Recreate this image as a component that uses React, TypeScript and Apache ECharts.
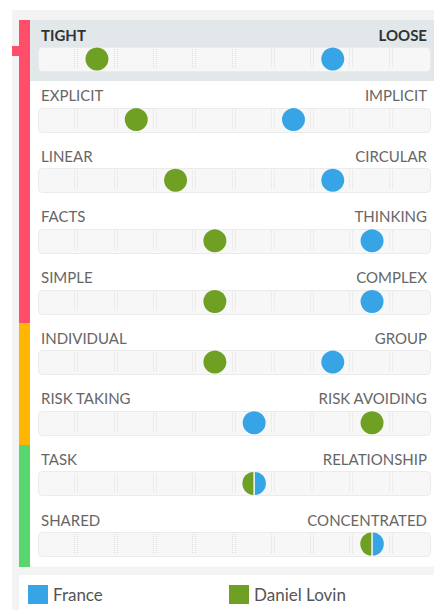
import React, { useEffect, useRef } from "react";
import * as echarts from "echarts";

const leftLabels = ["TIGHT", "EXPLICIT", "LINEAR", "FACTS", "SIMPLE", "INDIVIDUAL", "RISK TAKING", "TASK", "SHARED"];
const rightLabels = ["LOOSE", "IMPLICIT", "CIRCULAR", "THINKING", "COMPLEX", "GROUP", "RISK AVOIDING", "RELATIONSHIP", "CONCENTRATED"];
const rowGroup = [0, 0, 0, 0, 0, 1, 1, 2, 2];
const groupColors = ["#ff4d6a", "#ffb600", "#58d66f"];
const franceScores = [8, 7, 8, 9, 9, 8, 6, 6, 9];
const danielScores = [2, 3, 4, 5, 5, 5, 9, 6, 9];
const steps = 10;
const highlightedRow = 0;
const seriesNames = ["France", "Daniel Lovin"];
const seriesColors = ["#37a5e5", "#6f9f23"];

const FONT = "Lato, 'Open Sans', sans-serif";
const DOT = 23;
const leftHalf = "path://M10,0 A10,10 0 0,0 10,20 Z";
const rightHalf = "path://M0,0 A10,10 0 0,1 0,20 Z";

function buildDots(scores: number[], other: number[], isRight: boolean) {
  return scores.map((v, i) => {
    if (v === other[i]) {
      return {
        value: [v - 0.5, i],
        symbol: isRight ? rightHalf : leftHalf,
        symbolSize: [DOT / 2 - 0.5, DOT],
        symbolOffset: [isRight ? DOT / 4 + 0.5 : -DOT / 4 - 0.5, 0],
      };
    }
    return { value: [v - 0.5, i] };
  });
}

export default function App() {
  const ref = useRef<HTMLDivElement>(null);
  useEffect(() => {
    document.body.style.margin = "0";
    const chart = echarts.init(ref.current as HTMLDivElement, undefined, { renderer: "svg" });
    const W = 434;
    const legendCommon = {
      top: 580, icon: "rect", itemWidth: 20, itemHeight: 19, selectedMode: false,
      textStyle: { fontSize: 17, color: "#555", fontFamily: FONT },
    };
    const option: any = {
      animation: false,
      grid: { left: 38, right: 3, top: 59, bottom: 66 },
      xAxis: { type: "value", min: 0, max: steps, show: false },
      yAxis: { type: "value", min: 0, max: leftLabels.length - 1, inverse: true, show: false },
      graphic: [
        { type: "rect", z: 0, shape: { x: 12, y: 10, width: W - 12, height: 600 }, style: { fill: "#f3f3f3" }, silent: true },
        { type: "rect", z: 0, shape: { x: 19, y: 575, width: W - 19, height: 35 }, style: { fill: "#ffffff" }, silent: true },
      ],
      legend: [
        { ...legendCommon, data: [seriesNames[0]], left: 23 },
        { ...legendCommon, data: [seriesNames[1]], left: 224 },
      ],
      series: [
        {
          type: "custom",
          name: "rows",
          silent: true,
          clip: false,
          z: 1,
          data: leftLabels.map((_, i) => [0, i]),
          renderItem: (params: any, api: any) => {
            const row = api.value(1);
            const [x0, cy] = api.coord([0, row]);
            const [x1] = api.coord([steps, row]);
            const sp = api.size([0, 1])[1];
            const cell = (x1 - x0) / steps;
            const bandTop = Math.round(cy - sp * 0.64);
            const bandBot = Math.round(cy + sp * 0.36);
            const hl = row === highlightedRow;
            const fullW = api.getWidth();
            const children: any[] = [];
            children.push({
              type: "rect",
              shape: { x: x0 - 8, y: bandTop, width: fullW - (x0 - 8), height: bandBot - bandTop + 0.5 },
              style: { fill: hl ? "#e2e7ea" : "#ffffff" },
            });
            children.push({
              type: "rect",
              shape: { x: x0 - 19, y: bandTop, width: 11, height: bandBot - bandTop + 1 },
              style: { fill: groupColors[rowGroup[row]] },
            });
            if (hl) {
              children.push({
                type: "rect",
                shape: { x: x0 - 26, y: cy - 13, width: 7, height: 10 },
                style: { fill: groupColors[rowGroup[row]] },
              });
            }
            children.push({
              type: "rect",
              shape: { x: x0 + 0.5, y: Math.round(cy) - 11.5, width: x1 - x0 - 1, height: 24, r: 4 },
              style: { fill: "#f7f7f7", stroke: "#ebebeb", lineWidth: 1 },
            });
            for (let k = 1; k < steps; k++) {
              const bx = Math.round(x0 + k * cell);
              [bx - 2.5, bx + 0.5].forEach((lx) => {
                children.push({
                  type: "line",
                  shape: { x1: lx, y1: cy - 10, x2: lx, y2: cy + 10 },
                  style: { stroke: "#e0e0e0", lineWidth: 1, lineDash: [1, 1] },
                });
              });
            }
            const textStyle = {
              fill: hl ? "#333" : "#666", fontSize: 15, fontFamily: FONT,
              fontWeight: hl ? "bold" : "normal", verticalAlign: "middle",
            };
            children.push({
              type: "text", x: x0 + 3, y: cy - 24.5,
              style: { ...textStyle, text: leftLabels[row], align: "left" },
            });
            children.push({
              type: "text", x: x1 - 4, y: cy - 24.5,
              style: { ...textStyle, text: rightLabels[row], align: "right" },
            });
            return { type: "group", children };
          },
        },
        {
          type: "scatter",
          name: seriesNames[0],
          z: 5,
          symbolSize: DOT,
          itemStyle: { color: seriesColors[0], opacity: 1 },
          data: buildDots(franceScores, danielScores, true),
        },
        {
          type: "scatter",
          name: seriesNames[1],
          z: 5,
          symbolSize: DOT,
          itemStyle: { color: seriesColors[1], opacity: 1 },
          data: buildDots(danielScores, franceScores, false),
        },
      ],
    };
    chart.setOption(option);
    return () => chart.dispose();
  }, []);
  return <div ref={ref} style={{ width: 434, height: 610 }} />;
}
